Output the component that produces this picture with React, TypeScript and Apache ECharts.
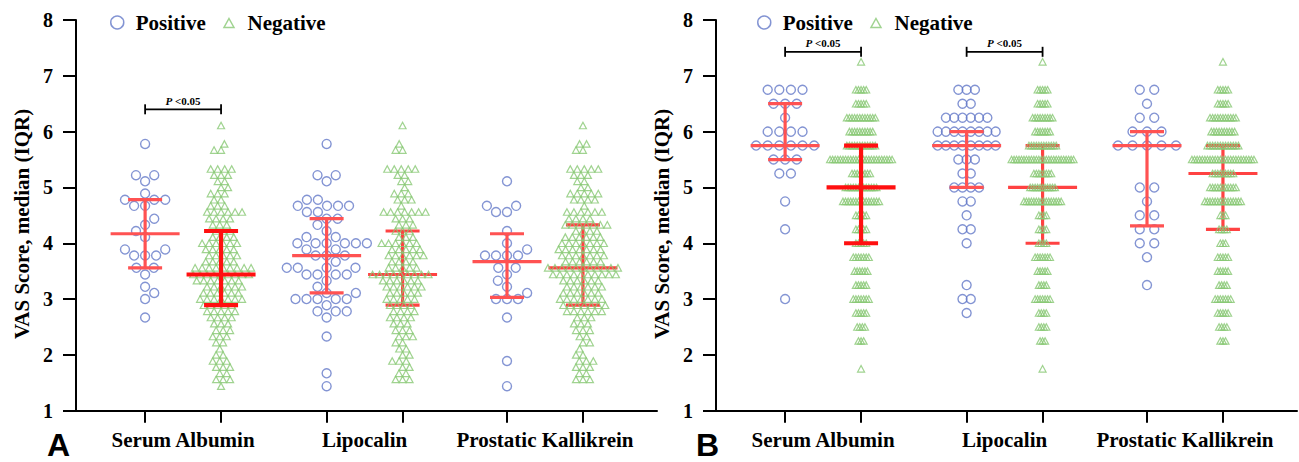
import React, { useEffect, useRef } from "react";
import * as echarts from "echarts";

// ---------- data ----------
const CATEGORIES = ["Serum Albumin", "Lipocalin", "Prostatic Kallikrein"];
const SERIES_NAMES = ["Positive", "Negative"];
const SIG_LABEL = "P <0.05";

// Panel A: [score, number of patients]
const A_SA_POS = [[5.78,1],[5.22,2],[5.11,1],[4.89,1],[4.78,3],[4.67,2],[4.44,1],[4.33,1],[4.22,1],[4.11,1],[3.89,2],[3.78,3],[3.56,2],[3.44,1],[3.22,1],[3.11,1],[3.0,1],[2.67,1]];
const A_SA_NEG = [[6.11,1],[5.78,1],[5.67,2],[5.33,4],[5.22,3],[5.11,2],[5.0,2],[4.89,3],[4.78,2],[4.67,3],[4.56,6],[4.44,4],[4.33,3],[4.22,3],[4.11,4],[4.0,6],[3.89,5],[3.78,5],[3.67,5],[3.56,9],[3.44,9],[3.33,7],[3.22,6],[3.11,6],[3.0,7],[2.89,5],[2.78,5],[2.67,4],[2.56,3],[2.44,3],[2.33,3],[2.22,2],[2.11,1],[2.0,2],[1.89,3],[1.78,3],[1.67,2],[1.56,3],[1.44,1]];
const A_LIP_POS = [[5.78,1],[5.22,2],[5.11,1],[4.78,2],[4.67,4],[4.56,2],[4.44,2],[4.33,1],[4.22,1],[4.11,2],[4.0,6],[3.89,2],[3.78,3],[3.67,1],[3.56,4],[3.44,4],[3.33,1],[3.22,1],[3.11,2],[3.0,5],[2.89,1],[2.78,3],[2.67,1],[2.33,1],[1.67,1],[1.44,1]];
const A_LIP_NEG = [[6.11,1],[5.78,1],[5.67,2],[5.33,5],[5.22,2],[5.11,2],[5.0,1],[4.89,3],[4.78,3],[4.67,1],[4.56,7],[4.44,3],[4.33,3],[4.22,3],[4.11,3],[4.0,6],[3.89,5],[3.78,6],[3.67,4],[3.56,5],[3.44,9],[3.33,6],[3.22,6],[3.11,5],[3.0,5],[2.89,4],[2.78,4],[2.67,4],[2.56,3],[2.44,3],[2.33,3],[2.22,2],[2.11,2],[2.0,2],[1.89,3],[1.78,2],[1.67,2],[1.56,3]];
const A_PK_POS = [[5.11,1],[4.67,2],[4.56,2],[4.22,1],[4.0,1],[3.89,1],[3.78,4],[3.56,2],[3.44,1],[3.33,1],[3.22,1],[3.11,1],[3.0,3],[2.67,1],[1.89,1],[1.44,1]];
const A_PK_NEG = [[6.11,1],[5.78,2],[5.67,2],[5.33,5],[5.22,3],[5.11,2],[5.0,2],[4.89,5],[4.78,4],[4.67,1],[4.56,6],[4.44,4],[4.33,7],[4.22,4],[4.11,6],[4.0,7],[3.89,7],[3.78,7],[3.67,6],[3.56,11],[3.44,10],[3.33,6],[3.22,6],[3.11,6],[3.0,7],[2.89,7],[2.78,6],[2.67,3],[2.56,3],[2.44,3],[2.33,2],[2.22,2],[2.11,1],[2.0,2],[1.89,3],[1.78,3],[1.67,2],[1.56,3]];

// Panel B
const B_SA_POS = [[6.75,4],[6.5,3],[6.25,1],[6.0,4],[5.75,6],[5.5,3],[5.25,2],[4.75,1],[4.25,1],[3.0,1]];
const B_SA_NEG = [[7.25,1],[6.75,5],[6.5,5],[6.25,12],[6.0,10],[5.75,12],[5.5,25],[5.25,8],[5.0,13],[4.75,15],[4.5,5],[4.25,5],[4.0,5],[3.75,7],[3.5,6],[3.25,5],[3.0,7],[2.75,5],[2.5,4],[2.25,3],[1.75,1]];
const B_LIP_POS = [[6.75,3],[6.5,2],[6.25,6],[6.0,8],[5.75,8],[5.5,3],[5.25,2],[5.0,4],[4.75,2],[4.5,1],[4.25,2],[4.0,1],[3.25,1],[3.0,2],[2.75,1]];
const B_LIP_NEG = [[7.25,1],[6.75,5],[6.5,5],[6.25,9],[6.0,7],[5.75,12],[5.5,26],[5.25,8],[5.0,11],[4.75,16],[4.5,4],[4.25,4],[4.0,4],[3.75,7],[3.5,5],[3.25,4],[3.0,7],[2.75,4],[2.5,4],[2.25,3],[1.75,1]];
const B_PK_POS = [[6.75,2],[6.5,1],[6.25,2],[6.0,3],[5.75,5],[5.0,2],[4.75,1],[4.5,2],[4.25,2],[4.0,2],[3.75,1],[3.25,1]];
const B_PK_NEG = [[7.25,1],[6.75,5],[6.5,5],[6.25,11],[6.0,10],[5.75,13],[5.5,25],[5.25,9],[5.0,11],[4.75,15],[4.5,3],[4.25,4],[4.0,3],[3.75,5],[3.5,5],[3.25,4],[3.0,7],[2.75,5],[2.5,4],[2.25,3]];

// median (IQR) per marker
const A_MED_POS = [4.17, 3.78, 3.67];
const A_Q1_POS = [3.56, 3.11, 3.03];
const A_Q3_POS = [4.78, 4.44, 4.17];
const A_MED_NEG = [3.44, 3.44, 3.56];
const A_Q1_NEG = [2.89, 2.89, 2.89];
const A_Q3_NEG = [4.22, 4.22, 4.33];
const B_MED_POS = [5.75, 5.75, 5.75];
const B_Q1_POS = [5.5, 5.0, 4.31];
const B_Q3_POS = [6.5, 6.0, 6.0];
const B_MED_NEG = [5.0, 5.0, 5.25];
const B_Q1_NEG = [4.0, 4.0, 4.25];
const B_Q3_NEG = [5.75, 5.75, 5.75];

// significance brackets: [marker index, height]
const A_SIG = [[0, 6.4]];
const B_SIG = [[0, 7.43], [1, 7.43]];

const Y_TICKS = { min: 1, max: 8, interval: 1 };

// ---------- layout / style ----------
const X_MAX = 7.65;
const CENTERS = [1.41, 3.8, 6.175];
const HALF = 0.5;
const GRID_W = 581;
const GRID_H = 390.7;
const XPX = GRID_W / X_MAX;
const YPX = GRID_H / (Y_TICKS.max - Y_TICKS.min);
const BLUE = "#6479c8";
const GREEN = "#88c874";
const SERIF = "'Liberation Serif', 'Times New Roman', serif";
const SANS = "'Liberation Sans', Arial, sans-serif";
const LEGEND_TRIANGLE = "path://M0,0L0,0M13,13L13,13M6.5,2.5L11.5,11.5L1.5,11.5Z";

const expand = (rows: number[][]) => rows.flatMap(([v, n]) => Array(n).fill(v));

function swarm(values: number[], D: number): number[] {
  const order = values.map((_, i) => i).sort((a, b) => values[a] - values[b]);
  const placed: { x: number; y: number }[] = [];
  const out = new Array(values.length).fill(0);
  let sum = 0;
  for (const i of order) {
    const y = values[i] * YPX;
    const near = placed.filter((p) => Math.abs(p.y - y) < D - 1e-9);
    const cands = [0];
    for (const p of near) {
      const dx = Math.sqrt(D * D - (p.y - y) ** 2);
      cands.push(p.x + dx, p.x - dx);
    }
    const ok = cands.filter((c) => near.every((p) => (c - p.x) ** 2 + (p.y - y) ** 2 >= D * D - 1e-6));
    const best = Math.min(...ok.map((c) => Math.abs(c)));
    const ties = ok.filter((c) => Math.abs(Math.abs(c) - best) < 1e-6);
    let x = ties[0];
    if (ties.length > 1) x = sum > 0 ? Math.min(...ties) : Math.max(...ties);
    placed.push({ x, y });
    out[i] = x;
    sum += x;
  }
  return out;
}

function rows(values: number[], W: number, cap: number): number[] {
  const counts = new Map<number, number>();
  values.forEach((v) => counts.set(v, (counts.get(v) || 0) + 1));
  const nmax = Math.max(...counts.values());
  const s = nmax > 1 ? Math.min(cap, W / (nmax - 1)) : 0;
  const seen = new Map<number, number>();
  return values.map((v) => {
    const n = counts.get(v)!;
    const j = seen.get(v) || 0;
    seen.set(v, j + 1);
    return (j - (n - 1) / 2) * s;
  });
}

function points(groups: number[][][], side: number, mode: string, circle: boolean) {
  const pts: number[][] = [];
  groups.forEach((g, gi) => {
    const vals = expand(g);
    const offs = mode === "swarm" ? swarm(vals, circle ? 11 : 7) : rows(vals, circle ? 58 : 62, circle ? 16 : 7);
    const cx = CENTERS[gi] + side * HALF;
    vals.forEach((v, i) => pts.push([cx + offs[i] / XPX, v]));
  });
  return pts;
}

function barItem(api: any, style: any) {
  const c = api.coord([api.value(0), api.value(1)]);
  const lo = api.coord([api.value(0), api.value(2)]);
  const hi = api.coord([api.value(0), api.value(3)]);
  return {
    type: "group",
    children: [
      { type: "line", shape: { x1: lo[0], y1: lo[1], x2: hi[0], y2: hi[1] }, style },
      { type: "line", shape: { x1: lo[0] - 17, y1: lo[1], x2: lo[0] + 17, y2: lo[1] }, style },
      { type: "line", shape: { x1: hi[0] - 17, y1: hi[1], x2: hi[0] + 17, y2: hi[1] }, style },
      { type: "line", shape: { x1: c[0] - 34.5, y1: c[1], x2: c[0] + 34.5, y2: c[1] }, style },
    ],
  };
}

function barSeries(idx: number, data: number[][], style: any, z: number) {
  return {
    type: "custom",
    xAxisIndex: idx,
    yAxisIndex: idx,
    z,
    silent: true,
    encode: { x: 0, y: [1, 2, 3] },
    data,
    renderItem: (_p: any, api: any) => barItem(api, style),
  };
}

function panel(idx: number, pos: number[][][], neg: number[][][], mode: string,
  med: number[][], q1: number[][], q3: number[][], sig: number[][]) {
  const series: any[] = [];
  series.push({
    name: SERIES_NAMES[0], type: "scatter", xAxisIndex: idx, yAxisIndex: idx, z: 2, silent: true,
    symbol: "circle", symbolSize: 9,
    itemStyle: { color: "rgba(0,0,0,0)", borderColor: BLUE, borderWidth: 1.4 },
    data: points(pos, -1, mode, true),
  });
  series.push({
    name: SERIES_NAMES[1], type: "scatter", xAxisIndex: idx, yAxisIndex: idx, z: 2, silent: true,
    symbol: "triangle", symbolSize: [7, 6.5],
    itemStyle: { color: "rgba(0,0,0,0)", borderColor: GREEN, borderWidth: 1.2 },
    data: points(neg, 1, mode, false),
  });
  const posBars = CENTERS.map((c, i) => [c - HALF, med[0][i], q1[0][i], q3[0][i]]);
  const negFirst = [[CENTERS[0] + HALF, med[1][0], q1[1][0], q3[1][0]]];
  const negRest = CENTERS.slice(1).map((c, k) => [c + HALF, med[1][k + 1], q1[1][k + 1], q3[1][k + 1]]);
  series.push(barSeries(idx, posBars, { stroke: "#ff5252", lineWidth: 3.2 }, 3));
  series.push(barSeries(idx, negFirst, { stroke: "#ff1010", lineWidth: 4.2 }, 3));
  series.push(barSeries(idx, negRest, { stroke: "#ff4242", lineWidth: 3.2 }, 1));
  series.push({
    type: "custom", xAxisIndex: idx, yAxisIndex: idx, z: 3, silent: true,
    encode: { x: [0, 1], y: 2 },
    data: sig.map(([g, h]) => [CENTERS[g] - HALF, CENTERS[g] + HALF, h]),
    renderItem: (_p: any, api: any) => {
      const a = api.coord([api.value(0), api.value(2)]);
      const b = api.coord([api.value(1), api.value(2)]);
      const st = { stroke: "#000", lineWidth: 1.8 };
      return {
        type: "group",
        children: [
          { type: "line", shape: { x1: a[0], y1: a[1], x2: b[0], y2: b[1] }, style: st },
          { type: "line", shape: { x1: a[0], y1: a[1] - 5, x2: a[0], y2: a[1] + 5 }, style: st },
          { type: "line", shape: { x1: b[0], y1: b[1] - 5, x2: b[0], y2: b[1] + 5 }, style: st },
          {
            type: "text", x: (a[0] + b[0]) / 2, y: a[1] - 3,
            style: {
              text: "{p|" + SIG_LABEL.slice(0, 1) + "}" + SIG_LABEL.slice(1),
              align: "center", verticalAlign: "bottom", fill: "#000",
              fontSize: 11, fontWeight: "bold", fontFamily: SERIF,
              rich: { p: { fontStyle: "italic", fontWeight: "bold", fontSize: 11, fontFamily: SERIF } },
            },
          },
        ],
      };
    },
  });
  return series;
}

const TICK_POS = CENTERS.flatMap((c) => [c - HALF, c + HALF]);

function axes(idx: number) {
  const xAxis = {
    gridIndex: idx, type: "value", min: 0, max: X_MAX,
    axisLine: { show: true, onZero: false, lineStyle: { color: "#000", width: 2 } },
    axisTick: { show: true, length: 12, lineStyle: { color: "#000", width: 2 }, customValues: TICK_POS },
    axisLabel: {
      customValues: CENTERS,
      formatter: (v: number) => {
        let bi = 0;
        CENTERS.forEach((c, i) => { if (Math.abs(c - v) < Math.abs(CENTERS[bi] - v)) bi = i; });
        return CATEGORIES[bi];
      },
      fontSize: 21, fontWeight: "bold", fontFamily: SERIF, color: "#000", margin: 19,
    },
    splitLine: { show: false },
  };
  const yAxis = {
    gridIndex: idx, type: "value", min: Y_TICKS.min, max: Y_TICKS.max, interval: Y_TICKS.interval,
    axisLine: { show: true, onZero: false, lineStyle: { color: "#000", width: 2 } },
    axisTick: { show: true, length: 13, lineStyle: { color: "#000", width: 2 } },
    axisLabel: { fontSize: 20, fontWeight: "bold", fontFamily: SERIF, color: "#000", margin: 23 },
    splitLine: { show: false },
  };
  return { xAxis, yAxis };
}

function legend(left: number) {
  return {
    left, top: 12, padding: 0, itemWidth: 13, itemHeight: 13, itemGap: 16, selectedMode: false,
    textStyle: { fontSize: 21, fontWeight: "bold", fontFamily: SERIF, color: "#000", padding: [0, 0, 0, 7] },
    data: [
      { name: SERIES_NAMES[0], icon: "circle", itemStyle: { color: "rgba(0,0,0,0)", borderColor: BLUE, borderWidth: 1.5 } },
      { name: SERIES_NAMES[1], icon: LEGEND_TRIANGLE, itemStyle: { color: "rgba(0,0,0,0)", borderColor: GREEN, borderWidth: 1.5 } },
    ],
  };
}

export default function App() {
  const ref = useRef<HTMLDivElement>(null);
  useEffect(() => {
    if (!ref.current) return;
    const chart = echarts.init(ref.current, null, { renderer: "svg" });
    const a = axes(0);
    const b = axes(1);
    const yTitle = (x: number) => ({
      type: "text", x, y: 224, rotation: Math.PI / 2,
      style: { text: "VAS Score, median (IQR)", align: "center", verticalAlign: "middle", fill: "#000",
        fontSize: 21, fontWeight: "bold", fontFamily: SERIF },
    });
    const letter = (x: number, t: string) => ({
      type: "text", x, y: 461,
      style: { text: t, align: "left", verticalAlign: "bottom", fill: "#000", fontSize: 32, fontWeight: "bold", fontFamily: SANS },
    });
    chart.setOption({
      animation: false,
      backgroundColor: "#fff",
      grid: [
        { left: 76, top: 20, width: GRID_W, height: GRID_H },
        { left: 716, top: 20, width: GRID_W, height: GRID_H },
      ],
      xAxis: [a.xAxis, b.xAxis],
      yAxis: [a.yAxis, b.yAxis],
      legend: [legend(110), legend(757)],
      graphic: [yTitle(22), yTitle(662), letter(47, "A"), letter(696, "B")],
      series: [
        ...panel(0, [A_SA_POS, A_LIP_POS, A_PK_POS], [A_SA_NEG, A_LIP_NEG, A_PK_NEG], "swarm",
          [A_MED_POS, A_MED_NEG], [A_Q1_POS, A_Q1_NEG], [A_Q3_POS, A_Q3_NEG], A_SIG),
        ...panel(1, [B_SA_POS, B_LIP_POS, B_PK_POS], [B_SA_NEG, B_LIP_NEG, B_PK_NEG], "rows",
          [B_MED_POS, B_MED_NEG], [B_Q1_POS, B_Q1_NEG], [B_Q3_POS, B_Q3_NEG], B_SIG),
      ],
    });
    return () => chart.dispose();
  }, []);
  return <div ref={ref} style={{ position: "fixed", left: 0, top: 0, width: 1299, height: 462, background: "#fff" }} />;
}
